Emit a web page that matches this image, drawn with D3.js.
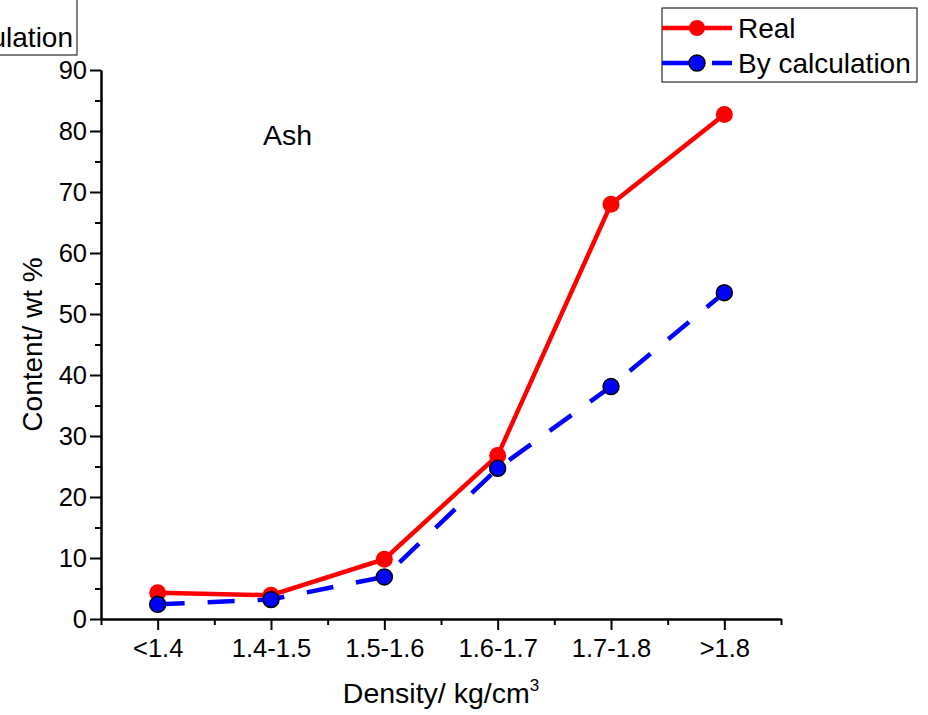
<!DOCTYPE html>
<html>
<head>
<meta charset="utf-8">
<title>Ash content by density</title>
<script src="https://d3js.org/d3.v7.min.js"></script>
<style>
  body { margin: 0; background: #fff; }
  text { font-family: "Liberation Sans", Arial, sans-serif; fill: #000; }
</style>
</head>
<body>
<div id="chart"></div>
<script>
// data
var categories = ["<1.4", "1.4-1.5", "1.5-1.6", "1.6-1.7", "1.7-1.8", ">1.8"];
var realValues = [4.3, 3.9, 9.8, 26.8, 68.0, 82.7];
var calcValues = [2.4, 3.2, 6.9, 24.7, 38.1, 53.5];
var yMajorTicks = [0, 10, 20, 30, 40, 50, 60, 70, 80, 90];
var yMinorTicks = [5, 15, 25, 35, 45, 55, 65, 75, 85];
var seriesNames = ["Real", "By calculation"];

var width = 928, height = 715;
var svg = d3.select("#chart").append("svg")
    .attr("width", width).attr("height", height);

var x = d3.scaleLinear().domain([-0.5, categories.length - 0.5]).range([101, 781]);
var y = d3.scaleLinear().domain([0, 90]).range([619, 70]);

var catIdx = categories.map(function(d, i) { return i; });
var minorIdx = d3.range(-0.5, categories.length, 1);

/* axes */
var gx = svg.append("g").attr("transform", "translate(0," + y(0) + ")");
gx.call(d3.axisBottom(x).tickValues(catIdx).tickSize(11).tickSizeOuter(0).tickPadding(9)
        .tickFormat(function(i) { return categories[i]; }));
gx.append("g").call(d3.axisBottom(x).tickValues(minorIdx).tickSize(6).tickSizeOuter(0)
        .tickFormat(""));

var gy = svg.append("g").attr("transform", "translate(" + x(-0.5) + ",0)");
gy.call(d3.axisLeft(y).tickValues(yMajorTicks).tickSize(11).tickSizeOuter(0).tickPadding(3));
gy.append("g").call(d3.axisLeft(y).tickValues(yMinorTicks).tickSize(6).tickSizeOuter(0)
        .tickFormat(""));

svg.selectAll(".domain").attr("stroke", "#000").attr("stroke-width", 2);
svg.selectAll(".tick line").attr("stroke", "#000").attr("stroke-width", 2);
svg.selectAll(".tick text").style("font-size", "25.5px")
    .style("font-family", "'Liberation Sans', Arial, sans-serif");

/* series */
var line = d3.line()
    .x(function(d, i) { return x(i); })
    .y(function(d) { return y(d); });

svg.append("path").datum(realValues)
    .attr("d", line).attr("fill", "none")
    .attr("stroke", "#ff0000").attr("stroke-width", 4.5);
svg.selectAll(".real-pt").data(realValues).enter().append("circle")
    .attr("class", "real-pt")
    .attr("cx", function(d, i) { return x(i); })
    .attr("cy", function(d) { return y(d); })
    .attr("r", 8.5).attr("fill", "#ff0000");

svg.append("path").datum(calcValues)
    .attr("d", line).attr("fill", "none")
    .attr("stroke", "#0000ff").attr("stroke-width", 4.5)
    .attr("stroke-dasharray", "27,23");
svg.selectAll(".calc-pt").data(calcValues).enter().append("circle")
    .attr("class", "calc-pt")
    .attr("cx", function(d, i) { return x(i); })
    .attr("cy", function(d) { return y(d); })
    .attr("r", 8).attr("fill", "#0000ff")
    .attr("stroke", "#000").attr("stroke-width", 1.5);

/* labels */
svg.append("text").attr("x", 263).attr("y", 145)
    .style("font-size", "28.5px").text("Ash");

var xl = svg.append("text").attr("x", 441).attr("y", 703)
    .attr("text-anchor", "middle").style("font-size", "28.5px");
xl.append("tspan").text("Density/ kg/cm");
xl.append("tspan").attr("dy", -12).style("font-size", "17px").text("3");

svg.append("text")
    .attr("transform", "translate(42," + (y(0) + y(90)) / 2 + ") rotate(-90)")
    .attr("text-anchor", "middle").style("font-size", "28px")
    .text("Content/ wt %");

/* stray legend box cut off at top-left */
svg.append("rect").attr("x", -140).attr("y", -10).attr("width", 217).attr("height", 65)
    .attr("fill", "#fff").attr("stroke", "#000").attr("stroke-width", 1);
svg.append("text").attr("x", 73).attr("y", 47).attr("text-anchor", "end")
    .style("font-size", "28px").text(seriesNames[1]);

/* legend */
var lg = svg.append("g");
lg.append("rect").attr("x", 662).attr("y", 8).attr("width", 255).attr("height", 74)
    .attr("fill", "#fff").attr("stroke", "#000").attr("stroke-width", 1);
var rows = [
  { name: seriesNames[0], color: "#ff0000", dash: null, outline: null, cy: 28 },
  { name: seriesNames[1], color: "#0000ff", dash: "27,23", outline: "#000", cy: 63 }
];
rows.forEach(function(r) {
  lg.append("line").attr("x1", 662).attr("x2", 732).attr("y1", r.cy).attr("y2", r.cy)
      .attr("stroke", r.color).attr("stroke-width", 4.5)
      .attr("stroke-dasharray", r.dash);
  lg.append("circle").attr("cx", 697).attr("cy", r.cy).attr("r", 8)
      .attr("fill", r.color)
      .attr("stroke", r.outline).attr("stroke-width", r.outline ? 1.5 : 0);
  lg.append("text").attr("x", 738).attr("y", r.cy + 10)
      .style("font-size", "28px").text(r.name);
});
</script>
</body>
</html>
